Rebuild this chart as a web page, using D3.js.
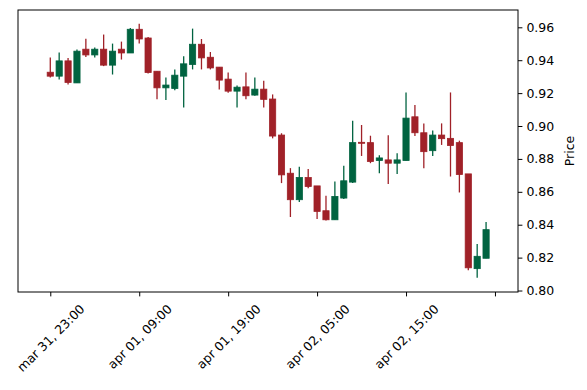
<!DOCTYPE html>
<html><head><meta charset="utf-8">
<script src="https://cdn.jsdelivr.net/npm/d3@7"></script>
<style>body{margin:0;background:#fff}svg{display:block;font-family:"DejaVu Sans",sans-serif}</style>
</head><body><svg id="c" width="587" height="390"></svg>
<script>
const opens  = [0.9327,0.9303,0.9396,0.9262,0.9467,0.9432,0.9467,0.9370,0.9467,0.9444,
                0.9588,0.9535,0.9333,0.9232,0.9228,0.9303,0.9374,0.9497,0.9418,0.9358,
                0.9285,0.9212,0.9238,0.9188,0.9224,0.9164,0.8945,0.8713,0.8552,0.8687,
                0.8636,0.8485,0.8430,0.8562,0.8659,0.8901,0.8899,0.8790,0.8794,0.8774,
                0.8790,0.9056,0.8959,0.8850,0.8945,0.8925,0.8899,0.8709,0.8133,0.8196];
const highs  = [0.9416,0.9447,0.9414,0.9465,0.9531,0.9477,0.9556,0.9501,0.9513,0.9596,
                0.9622,0.9541,0.9333,0.9295,0.9344,0.9424,0.9592,0.9529,0.9450,0.9358,
                0.9325,0.9247,0.9325,0.9295,0.9275,0.9192,0.8956,0.8744,0.8753,0.8738,
                0.8636,0.8576,0.8662,0.8758,0.9032,0.9006,0.8941,0.8822,0.8944,0.8834,
                0.9204,0.9127,0.9016,0.8972,0.9016,0.9204,0.8911,0.8709,0.8283,0.8416];
const lows   = [0.9295,0.9283,0.9253,0.9262,0.9420,0.9416,0.9364,0.9313,0.9404,0.9444,
                0.9501,0.9319,0.9162,0.9158,0.9218,0.9113,0.9344,0.9344,0.9344,0.9222,
                0.9202,0.9113,0.9162,0.9184,0.9113,0.8925,0.8653,0.8447,0.8538,0.8622,
                0.8435,0.8426,0.8430,0.8556,0.8653,0.8818,0.8774,0.8713,0.8647,0.8709,
                0.8790,0.8939,0.8744,0.8818,0.8885,0.8693,0.8596,0.8123,0.8077,0.8196];
const closes = [0.9303,0.9396,0.9265,0.9455,0.9432,0.9467,0.9370,0.9455,0.9444,0.9588,
                0.9529,0.9325,0.9232,0.9249,0.9309,0.9378,0.9497,0.9414,0.9353,0.9279,
                0.9212,0.9236,0.9184,0.9224,0.9162,0.8939,0.8703,0.8552,0.8687,0.8632,
                0.8481,0.8430,0.8572,0.8667,0.8899,0.8895,0.8784,0.8806,0.8774,0.8794,
                0.9048,0.8959,0.8844,0.8945,0.8923,0.8881,0.8705,0.8138,0.8208,0.8370];
const xTickIdx = [0,10,20,30,40,50];
const xTickLabels = ["mar 31, 23:00","apr 01, 09:00","apr 01, 19:00","apr 02, 05:00","apr 02, 15:00",""];
const yTicks = [0.80,0.82,0.84,0.86,0.88,0.90,0.92,0.94,0.96];
const yLabel = "Price";

const L=18,R=518,T=10,B=292;
const up="#006340", down="#A02128";
const svg=d3.select("#c");
const x=d3.scaleLinear().domain([-3.63,52.59]).range([L,R]);
const y=d3.scaleLinear().domain([0.7991,0.97052]).range([B,T]);
const fs=12.5;

const data=opens.map((o,i)=>({i,o,h:highs[i],l:lows[i],c:closes[i]}));
const g=svg.append("g");
g.selectAll("line.w").data(data).enter().append("line")
  .attr("x1",d=>x(d.i)).attr("x2",d=>x(d.i))
  .attr("y1",d=>y(d.h)).attr("y2",d=>y(d.l))
  .attr("stroke",d=>d.c>=d.o?up:down).attr("stroke-width",1.3);
const bw=6.2;
g.selectAll("rect").data(data).enter().append("rect")
  .attr("x",d=>x(d.i)-bw/2).attr("width",bw)
  .attr("y",d=>y(Math.max(d.o,d.c)))
  .attr("height",d=>Math.max(1,Math.abs(y(d.o)-y(d.c))))
  .attr("fill",d=>d.c>=d.o?up:down)
  .attr("stroke",d=>d.c>=d.o?up:down).attr("stroke-width",0.8);

// frame
svg.append("rect").attr("x",L).attr("y",T).attr("width",R-L).attr("height",B-T)
  .attr("fill","none").attr("stroke","#000").attr("stroke-width",1);

// y axis (right)
const ya=d3.axisRight(y).tickValues(yTicks).tickFormat(d3.format(".2f")).tickSize(4.4).tickPadding(4);
const yg=svg.append("g").attr("transform",`translate(${R},0)`).call(ya);
yg.select(".domain").remove();
yg.selectAll("text").attr("font-size",fs).attr("font-family","DejaVu Sans").attr("fill","#000");
yg.selectAll("line").attr("stroke","#000");

svg.append("text").attr("transform",`translate(574,${(T+B)/2}) rotate(-90)`)
  .attr("text-anchor","middle").attr("font-size",fs).text(yLabel);

// x axis
const xa=d3.axisBottom(x).tickValues(xTickIdx).tickFormat((d,i)=>xTickLabels[i]).tickSize(4.4);
const xg=svg.append("g").attr("transform",`translate(0,${B})`).call(xa);
xg.select(".domain").remove();
xg.selectAll("line").attr("stroke","#000");
xg.selectAll("text").each(function(d){
  const t=d3.select(this);
  t.attr("font-size",fs).attr("font-family","DejaVu Sans").attr("fill","#000")
   .attr("y",null).attr("dy",null).attr("text-anchor","middle").attr("dominant-baseline","central");
  const len=this.getComputedTextLength();
  const h=fs*1.16;
  const bb=(len+h)/Math.SQRT2;
  const cy=9.5+bb/2;
  t.attr("transform",`translate(0,${cy}) rotate(-45)`);
});
</script></body></html>
